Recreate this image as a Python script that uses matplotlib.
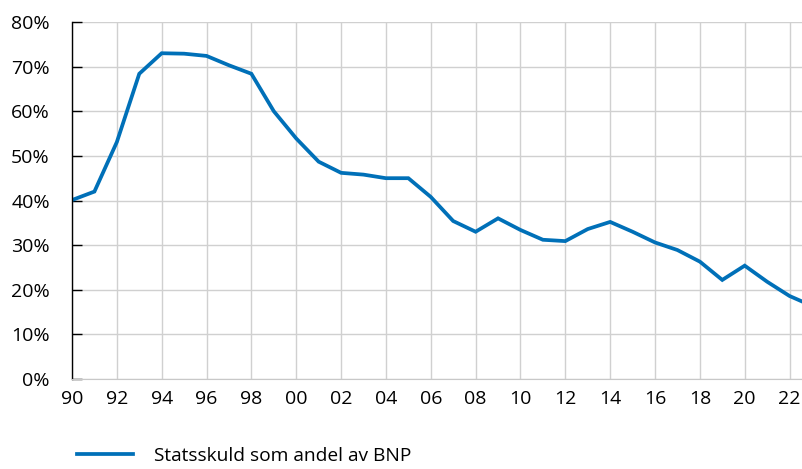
import matplotlib
matplotlib.use("Agg")
import matplotlib.pyplot as plt
from matplotlib.ticker import FuncFormatter

plt.rcParams['font.family'] = ['Open Sans', 'DejaVu Sans']

years = list(range(1990, 2024))
debt = [40.1, 42.0, 53.1, 68.4, 73.0, 72.9, 72.4, 70.3, 68.4, 60.0,
        53.9, 48.7, 46.2, 45.8, 45.0, 45.0, 40.8, 35.4, 33.0, 36.0,
        33.4, 31.2, 30.9, 33.6, 35.2, 33.0, 30.6, 28.9, 26.3, 22.2,
        25.4, 21.8, 18.6, 16.4]
series_label = "Statsskuld som andel av BNP"
tick_years = list(range(1990, 2023, 2))

fig = plt.figure(figsize=(8.03, 4.69), dpi=100)
ax = fig.add_axes([72 / 803, 1 - 379 / 469, 1 - 72 / 803, (379 - 22) / 469])

line, = ax.plot(years, debt, color="#0070b8", lw=2.7, solid_joinstyle="miter",
                label=series_label)

ax.set_xlim(1990, 2022.6)
ax.set_ylim(0, 80)
ax.set_xticks(tick_years)
ax.set_xticklabels(["%02d" % (y % 100) for y in tick_years])
ax.set_yticks(range(0, 81, 10))
ax.yaxis.set_major_formatter(FuncFormatter(lambda v, p: "%d%%" % v))

ax.grid(True, color="#d0d0d0", lw=1.0)
ax.set_axisbelow(True)
for s in ["top", "right"]:
    ax.spines[s].set_visible(False)
ax.spines["bottom"].set_color("#c8c8c8")
ax.spines["left"].set_color("black")
ax.spines["left"].set_linewidth(1.0)

ax.tick_params(axis="y", direction="in", length=7, width=1, labelsize=14, pad=16, colors="black")
ax.tick_params(axis="x", length=0, labelsize=14, pad=8)

fig.legend(handles=[line], loc="center left", bbox_to_anchor=(60 / 803, 1 - 456 / 469),
           frameon=False, fontsize=13.8, handlelength=2.9, handletextpad=1.1)

fig.savefig("out.png", dpi=100)
